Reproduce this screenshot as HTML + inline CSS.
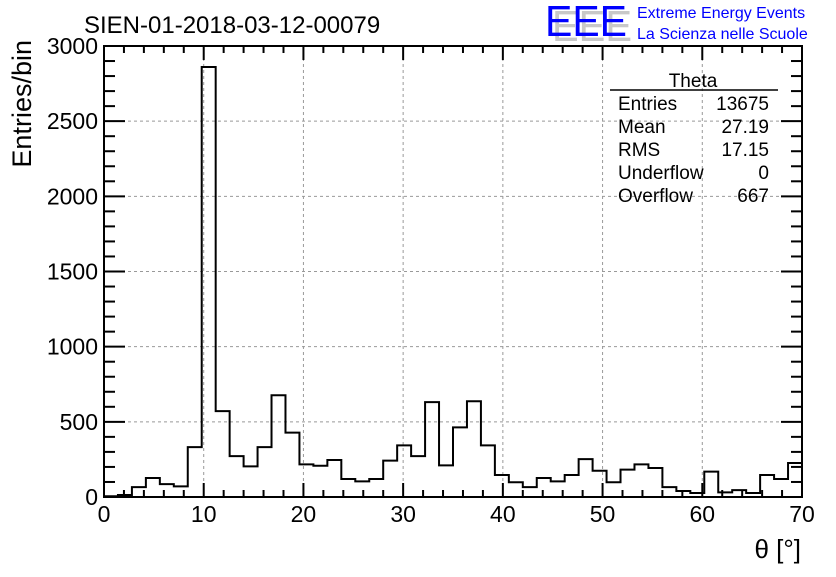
<!DOCTYPE html>
<html><head><meta charset="utf-8"><style>
body{margin:0;background:#fff;}
svg text{font-family:"Liberation Sans",sans-serif;}
</style></head><body>
<svg id="c" width="836" height="572" xmlns="http://www.w3.org/2000/svg">
<rect width="836" height="572" fill="#fff"/>
<text x="84" y="33" font-size="24">SIEN-01-2018-03-12-00079</text>
<g>
<text x="552" y="41" font-size="44" fill="#c8c8c8" textLength="80" lengthAdjust="spacingAndGlyphs">EEE</text>
<text x="545" y="36" font-size="44" fill="#0000ff" textLength="82" lengthAdjust="spacingAndGlyphs">EEE</text>
<text x="637" y="18" font-size="16" fill="#0000ff">Extreme Energy Events</text>
<text x="637" y="39" font-size="16" fill="#0000ff">La Scienza nelle Scuole</text>
</g>
<g id="grid"></g>
<g id="ticks"></g>
<path id="hist" fill="none" stroke="#000" stroke-width="2"/>
<rect x="104" y="46" width="698" height="451" fill="none" stroke="#000" stroke-width="2"/>
<g id="labels"></g>
<text x="31" y="40" font-size="27" transform="rotate(-90 31 40)" text-anchor="end">Entries/bin</text>
<text x="801" y="558" font-size="26" text-anchor="end">θ [°]</text>
<g>
<text x="693" y="87" font-size="19" text-anchor="middle">Theta</text>
<line x1="610" y1="90" x2="778" y2="90" stroke="#000" stroke-width="1.5"/>
<text x="618" y="110" font-size="19">Entries</text><text x="769" y="110" font-size="19" text-anchor="end">13675</text>
<text x="618" y="133" font-size="19">Mean</text><text x="769" y="133" font-size="19" text-anchor="end">27.19</text>
<text x="618" y="156" font-size="19">RMS</text><text x="769" y="156" font-size="19" text-anchor="end">17.15</text>
<text x="618" y="179" font-size="19">Underflow</text><text x="769" y="179" font-size="19" text-anchor="end">0</text>
<text x="618" y="202" font-size="19">Overflow</text><text x="769" y="202" font-size="19" text-anchor="end">667</text>
</g>
</svg>
<script>
const binLow = 0, binHigh = 70;
const counts = [5,13,66,126,86,71,332,2860,571,272,204,332,677,428,217,208,246,120,104,120,242,343,272,631,210,463,637,343,146,98,66,126,104,146,252,175,98,182,217,193,66,40,27,169,31,46,27,146,120,226];
const xTicks = [0,10,20,30,40,50,60,70];
const yTicks = [0,500,1000,1500,2000,2500,3000];
const X0=104,X1=802,Y0=497,Y1=46;
const sx=v=>X0+(v-binLow)/(binHigh-binLow)*(X1-X0);
const sy=v=>Y0-(v/3000)*(Y0-Y1);
const NS="http://www.w3.org/2000/svg";
function mk(tag,attrs,parent){const e=document.createElementNS(NS,tag);for(const k in attrs)e.setAttribute(k,attrs[k]);parent.appendChild(e);return e;}
const grid=document.getElementById('grid'),ticks=document.getElementById('ticks'),labels=document.getElementById('labels');
xTicks.forEach(t=>{const x=sx(t);
 if(t>binLow&&t<binHigh){const g=mk('line',{x1:x,x2:x,y1:Y1,y2:Y0,stroke:'#999','stroke-dasharray':'3,3'},grid);
 
 }
 const l=mk('text',{x:x,y:522,'font-size':23,'text-anchor':'middle'},labels);l.textContent=t;
 
 
});
for(let v=0;v<=70;v+=2){const x=sx(v);const len=v%10===0?14:7;
 mk('line',{x1:x,x2:x,y1:Y0,y2:Y0-len,stroke:'#000','stroke-width':2},ticks);
 mk('line',{x1:x,x2:x,y1:Y1,y2:Y1+len,stroke:'#000','stroke-width':2},ticks);}
yTicks.forEach(t=>{const y=sy(t);
 if(t>0&&t<3000){const g=mk('line',{x1:X0,x2:X1,y1:y,y2:y,stroke:'#999','stroke-dasharray':'3,3'},grid);
 
 }
 const l=mk('text',{x:98,y:y+8,'font-size':23,'text-anchor':'end'},labels);l.textContent=t;
 
 
});
for(let v=0;v<=3000;v+=100){const y=sy(v);const len=v%500===0?21:11;
 mk('line',{x1:X0,x2:X0+len,y1:y,y2:y,stroke:'#000','stroke-width':2},ticks);
 mk('line',{x1:X1,x2:X1-len,y1:y,y2:y,stroke:'#000','stroke-width':2},ticks);}
const bw=(binHigh-binLow)/counts.length;
let d='M'+sx(binLow)+','+sy(0);
counts.forEach((c,i)=>{d+=' L'+sx(binLow+i*bw)+','+sy(c)+' L'+sx(binLow+(i+1)*bw)+','+sy(c);});
document.getElementById('hist').setAttribute('d',d);
</script>
</body></html>
